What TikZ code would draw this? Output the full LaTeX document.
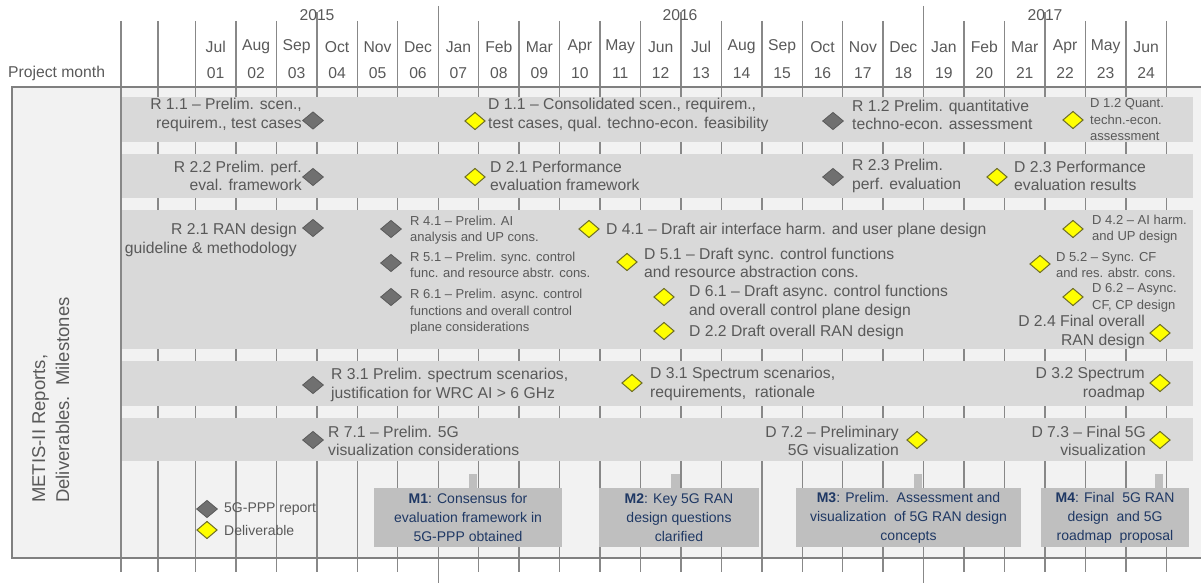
\documentclass[tikz,border=0pt]{standalone}
\usepackage{fontspec}
\setmainfont{Liberation Sans}
\usetikzlibrary{shapes.geometric}
\definecolor{framebg}{HTML}{F2F2F2}
\definecolor{framedr}{HTML}{808080}
\definecolor{bandc}{HTML}{D9D9D9}
\definecolor{gridc}{HTML}{888888}
\definecolor{txtc}{HTML}{595959}
\definecolor{repfill}{HTML}{707070}
\definecolor{repdraw}{HTML}{5A5A5A}
\definecolor{delfill}{HTML}{FFFF00}
\definecolor{deldraw}{HTML}{6E6E28}
\definecolor{milefill}{HTML}{BFBFBF}
\definecolor{miletxt}{HTML}{1F3864}
\newcommand\fmain{\fontsize{15.7}{18.5}\selectfont}
\newcommand\fsmall{\fontsize{13}{16.5}\selectfont}
\newcommand\fmile{\fontsize{14}{19}\selectfont}
\newcommand\fside{\fontsize{18.5}{24}\selectfont}
\tikzset{
  gline/.style={draw=gridc, line width=1.4pt},
  band/.style={fill=bandc, draw=none},
  repd/.style={shape=diamond, fill=repfill, draw=repdraw, line width=0.8pt, minimum width=21pt, minimum height=17.5pt, inner sep=0pt},
  deld/.style={shape=diamond, fill=delfill, draw=deldraw, line width=1pt, minimum width=20.5pt, minimum height=17.5pt, inner sep=0pt},
  lab/.style={font=\fmain, text=txtc, inner sep=0pt, align=left},
  slab/.style={font=\fsmall, text=txtc, inner sep=0pt, align=left},
  hdr/.style={font=\fmain, text=txtc, inner sep=0pt},
  mile/.style={fill=milefill, draw=none, font=\fmile, text=miletxt, align=center, inner sep=0pt},
}
\begin{document}
\begin{tikzpicture}[x=1pt, y=-1pt]
\useasboundingbox (0,0) rectangle (1201,583);
% outer frame background
\fill[framebg] (12,87) rectangle (1204,558);
% grid lines
\foreach \xx in {121,158} \draw[gline] (\xx,21) -- (\xx,572);
\foreach \k in {0,...,24} \draw[gline] ({195.5+40.45*\k},21) -- ({195.5+40.45*\k},572);
\foreach \k in {6,18} \draw[gline] ({195.5+40.45*\k},6) -- ({195.5+40.45*\k},583);
\foreach \k in {3,12,21} \draw[gline] ({195.5+40.45*\k},12) -- ({195.5+40.45*\k},21);
% frame border
\draw[framedr, line width=1.5pt] (1204,87) -- (12,87) -- (12,558) -- (1204,558);
% header
\node[hdr] (y15) at (317,15) {2015};
\node[hdr] (y16) at (680,15) {2016};
\node[hdr] (y17) at (1045,15) {2017};
\node[hdr, anchor=west] (pm) at (8,73) {Project month};
\foreach \m [count=\i] in {Jul,Aug,Sep,Oct,Nov,Dec,Jan,Feb,Mar,Apr,May,Jun,Jul,Aug,Sep,Oct,Nov,Dec,Jan,Feb,Mar,Apr,May,Jun}{
  \node[hdr] (mo\i) at ({195.5+40.45*(\i-0.5)},47) {\m};
  \node[hdr] (nu\i) at ({195.5+40.45*(\i-0.5)},73) {\ifnum\i<10 0\fi\i};
}
% side label
\node[font=\fside, text=txtc, rotate=90, anchor=north west, align=left, inner sep=0pt] (side) at (32,503) {METIS-II Reports,\\Deliverables.\ \ Milestones};
% bands
\fill[band] (122,97) rectangle (1193,141.5);
\fill[band] (122,154) rectangle (1193,198);
\fill[band] (122,210) rectangle (1193,349);
\fill[band] (122,361) rectangle (1193,406);
\fill[band] (122,418) rectangle (1193,461);
% row 1
\node[repd] (r11) at (313,120.5) {};
\node[lab, anchor=east, align=right] (tr11) at (302,115) {R 1.1 – Prelim. scen.,\\requirem., test cases};
\node[deld] (d11) at (475,121) {};
\node[lab, anchor=west] (td11) at (488,115) {D 1.1 – Consolidated scen., requirem.,\\test cases, qual. techno-econ. feasibility};
\node[repd] (r12) at (833,121) {};
\node[lab, anchor=west] (tr12) at (852,115) {R 1.2 Prelim. quantitative\\techno-econ. assessment};
\node[deld] (d12) at (1073,120) {};
\node[slab, anchor=west] (td12) at (1090,120) {D 1.2 Quant.\\techn.-econ.\\assessment};
% row 2
\node[repd] (r22) at (313,177) {};
\node[lab, anchor=east, align=right] (tr22) at (302,176) {R 2.2 Prelim. perf.\\eval. framework};
\node[deld] (d21) at (475,177) {};
\node[lab, anchor=west] (td21) at (490,176) {D 2.1 Performance\\evaluation framework};
\node[repd] (r23) at (833,177) {};
\node[lab, anchor=west] (tr23) at (852,176) {R 2.3 Prelim.\\perf. evaluation};
\node[deld] (d23) at (997,177) {};
\node[lab, anchor=west] (td23) at (1014,176) {D 2.3 Performance\\evaluation results};
% row 3
\node[repd] (r21) at (313,228) {};
\node[lab, anchor=east, align=right] (tr21) at (297,240) {R 2.1 RAN design\\guideline \& methodology};
\node[repd] (r41) at (391,229) {};
\node[slab, anchor=west] (tr41) at (410,230) {R 4.1 – Prelim. AI\\analysis and UP cons.};
\node[repd] (r51) at (391,263) {};
\node[slab, anchor=west] (tr51) at (410,265) {R 5.1 – Prelim. sync. control\\func. and resource abstr. cons.};
\node[repd] (r61) at (391,297) {};
\node[slab, anchor=west] (tr61) at (410,312) {R 6.1 – Prelim. async. control\\functions and overall control\\plane considerations};
\node[deld] (d41) at (589,229) {};
\node[lab, anchor=west] (td41) at (606,230) {D 4.1 – Draft air interface harm. and user plane design};
\node[deld] (d51) at (627,262) {};
\node[lab, anchor=west] (td51) at (644,263) {D 5.1 – Draft sync. control functions\\and resource abstraction cons.};
\node[deld] (d61) at (664,297) {};
\node[lab, anchor=west] (td61) at (689,302) {D 6.1 – Draft async. control functions\\and overall control plane design};
\node[deld] (d22) at (664,331) {};
\node[lab, anchor=west] (td22) at (689,332) {D 2.2 Draft overall RAN design};
\node[deld] (d42) at (1073,229) {};
\node[slab, anchor=west] (td42) at (1092,229) {D 4.2 – AI harm.\\and UP design};
\node[deld] (d52) at (1040,264) {};
\node[slab, anchor=west] (td52) at (1056,265) {D 5.2 – Sync. CF\\and res. abstr. cons.};
\node[deld] (d62) at (1073,297) {};
\node[slab, anchor=west] (td62) at (1092,298) {D 6.2 – Async.\\CF, CP design};
\node[deld] (d24) at (1160,333) {};
\node[lab, anchor=east, align=right] (td24) at (1145,332) {D 2.4 Final overall\\RAN design};
% row 4
\node[repd] (r31) at (313,385) {};
\node[lab, anchor=west] (tr31) at (331,385) {R 3.1 Prelim. spectrum scenarios,\\justification for WRC AI > 6 GHz};
\node[deld] (d31) at (632,383) {};
\node[lab, anchor=west] (td31) at (650,384) {D 3.1 Spectrum scenarios,\\requirements,\ \ rationale};
\node[deld] (d32) at (1160,383) {};
\node[lab, anchor=east, align=right] (td32) at (1145,384) {D 3.2 Spectrum\\roadmap};
% row 5
\node[repd] (r71) at (313,440) {};
\node[lab, anchor=west] (tr71) at (328,441) {R 7.1 – Prelim. 5G\\visualization considerations};
\node[deld] (d72) at (917,440) {};
\node[lab, anchor=east, align=right] (td72) at (899,441) {D 7.2 – Preliminary\\5G visualization};
\node[deld] (d73) at (1160,440) {};
\node[lab, anchor=east, align=right] (td73) at (1146,441) {D 7.3 – Final 5G\\visualization};
% legend
\node[repd] (lgr) at (207,509) {};
\node[slab, anchor=west, font=\fontsize{14}{17}\selectfont] (lgrt) at (224,509) {5G-PPP report};
\node[deld] (lgd) at (207,530) {};
\node[slab, anchor=west, font=\fontsize{14}{17}\selectfont] (lgdt) at (224,530) {Deliverable};
% milestones
\fill[milefill] (469,474) rectangle (477,489);
\fill[milefill] (671,474) rectangle (680,489);
\fill[milefill] (914,474) rectangle (922,489);
\fill[milefill] (1155,474) rectangle (1163,489);
\node[mile, minimum width=188pt, minimum height=59pt] (m1) at (468,517.5) {\textbf{M1}: Consensus for\\evaluation framework in\\5G-PPP obtained};
\node[mile, minimum width=160pt, minimum height=59pt] (m2) at (679,517.5) {\textbf{M2}: Key 5G RAN\\design questions\\clarified};
\node[mile, minimum width=225pt, minimum height=59pt] (m3) at (908.5,517.5) {\textbf{M3}: Prelim.\ \ Assessment and\\visualization\ \ of 5G RAN design\\concepts};
\node[mile, minimum width=148pt, minimum height=59pt] (m4) at (1115,517.5) {\textbf{M4}: Final\ \ 5G RAN\\design\ \ and 5G\\roadmap\ \ proposal};
\end{tikzpicture}
\end{document}
